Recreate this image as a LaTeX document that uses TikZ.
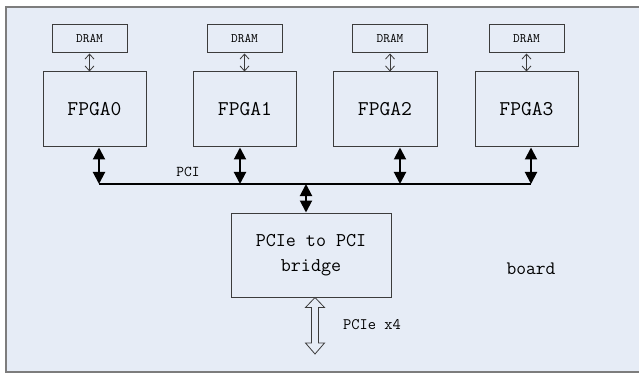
\documentclass[tikz,border=0pt]{standalone}
\usetikzlibrary{arrows.meta,calc}
\definecolor{boardfill}{RGB}{230,236,246}
\definecolor{boardline}{RGB}{125,125,125}
\definecolor{boxline}{RGB}{60,60,60}
\tikzset{
  dramnode/.style={draw=boxline,line width=1pt,minimum width=75pt,minimum height=28pt,inner sep=0pt,font=\ttfamily\fontsize{13}{15}\selectfont},
  fpganode/.style={draw=boxline,line width=1pt,minimum width=103pt,minimum height=75pt,inner sep=0pt,font=\ttfamily\fontsize{21}{24}\selectfont},
  bridgenode/.style={draw=boxline,line width=1pt,minimum width=160pt,minimum height=84pt,inner sep=0pt,align=center,font=\ttfamily\fontsize{19.5}{25}\selectfont},
  thinarrow/.style={draw=boxline,line width=0.8pt,{Straight Barb[length=5pt,width=9pt]}-{Straight Barb[length=5pt,width=9pt]}},
  bigarrow/.style={draw=black,line width=2pt,{Triangle[length=12pt,width=12pt]}-{Triangle[length=12pt,width=12pt]}},
  buswire/.style={draw=black,line width=2pt},
  lbl/.style={inner sep=0pt,font=\ttfamily\fontsize{15}{17}\selectfont},
}
\begin{document}
\begin{tikzpicture}[x=1pt,y=-1pt]
\useasboundingbox (0,0) rectangle (639,374);
\fill[boardfill] (6,7) rectangle (645,372);
\draw[boardline,line width=2pt] (645,7) -- (6,7) -- (6,372) -- (645,372);

\node[dramnode] (d0) at (89.5,39) {DRAM};
\node[dramnode] (d1) at (244.5,39) {DRAM};
\node[dramnode] (d2) at (390,39) {DRAM};
\node[dramnode] (d3) at (526.5,39) {DRAM};

\node[fpganode] (f0) at (94.5,109.5) {FPGA0};
\node[fpganode] (f1) at (245,109.5) {FPGA1};
\node[fpganode,minimum width=104pt] (f2) at (385,109.5) {FPGA2};
\node[fpganode] (f3) at (526.5,109.5) {FPGA3};

\foreach \i in {0,1,2,3}{
  \draw[thinarrow] (d\i.south) -- (d\i.south |- f\i.north);
}

\coordinate (b0) at (99,184);
\coordinate (b1) at (240,184);
\coordinate (b2) at (400,184);
\coordinate (b3) at (531,184);
\coordinate (bb) at (306,184);

\draw[buswire] (b0) -- (b3);
\foreach \i in {0,1,2,3}{
  \draw[bigarrow] (b\i |- f\i.south) -- (b\i);
}
\node[lbl] (pci) at (188,172) {PCI};

\node[bridgenode] (br) at (311,255) {PCIe to PCI\\bridge};
\draw[bigarrow] (bb) -- (bb |- br.north);

\coordinate (pe) at (315,354);
\draw[boxline,line width=0.8pt,fill=boardfill]
  (br.south -| pe)
  -- ++(9.5,10) -- ++(-6,0) -- ($(pe)+(3.5,-11)$) -- ++(6,0) -- (pe)
  -- ++(-9.5,-11) -- ++(6,0) -- ($(br.south -| pe)+(-3.5,10)$) -- ++(-6,0) -- cycle;
\node[lbl,font=\ttfamily\fontsize{16}{18}\selectfont,anchor=west] (pelbl) at (343,325) {PCIe x4};

\node[lbl,font=\ttfamily\fontsize{19}{22}\selectfont] (board) at (531,269) {board};
\end{tikzpicture}
\end{document}
